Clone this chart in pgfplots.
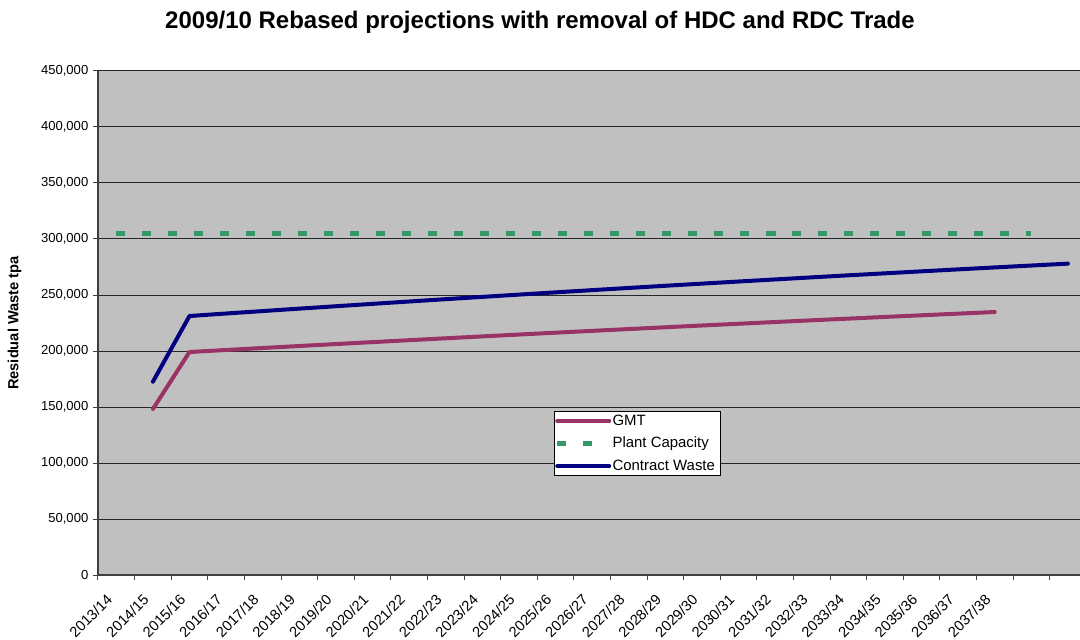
\documentclass[border=0pt]{standalone}
\usepackage{pgfplots}
\pgfplotsset{compat=1.18}
\usepackage{fontspec}
\setmainfont{Liberation Sans}
\definecolor{gmt}{HTML}{993366}
\definecolor{plant}{HTML}{339966}
\definecolor{contract}{HTML}{000080}
\definecolor{bg}{HTML}{C0C0C0}
\begin{document}
\begin{tikzpicture}
\begin{axis}[
 name=ax,
 scale only axis,
 width=736.5pt, height=378pt,
 xmin=-0.5, xmax=26.33,
 ymin=0, ymax=450000,
 axis background/.style={fill=bg},
 axis x line*=bottom, axis y line*=left,
 axis line style={black!75, line width=0.9pt, -},
 tick align=outside,
 major tick length=3.75pt,
 tick style={black!75, line width=0.75pt},
 tick label style={font=\fontsize{9.8}{11}\selectfont},
 xtick={-0.5,0.5,...,25.5},
 xticklabel={\mbox{}},
 extra x ticks={0,1,...,24},
 extra x tick labels={2013/14,2014/15,2015/16,2016/17,2017/18,2018/19,2019/20,2020/21,2021/22,2022/23,2023/24,2024/25,2025/26,2026/27,2027/28,2028/29,2029/30,2030/31,2031/32,2032/33,2033/34,2034/35,2035/36,2036/37,2037/38},
 extra x tick style={major tick length=0pt, tick label style={xshift=-8pt, yshift=-13.5pt, rotate=45, anchor=north east, inner sep=0pt, font=\fontsize{11}{13}\selectfont}},
 ytick={0,50000,100000,150000,200000,250000,300000,350000,400000,450000},
 yticklabels={0,{50,000},{100,000},{150,000},{200,000},{250,000},{300,000},{350,000},{400,000},{450,000}},
 scaled y ticks=false,
 ymajorgrids,
 major grid style={black!85, line width=0.75pt},
 ylabel={Residual Waste tpa},
 ylabel style={font=\bfseries\fontsize{11}{13}\selectfont, at={(axis description cs:-0.085,0.5)}, anchor=center},
 legend style={at={(0.4644,0.3254)}, anchor=north west, draw=black, fill=white,
   font=\fontsize{11.2}{13}\selectfont, inner sep=0.5pt, row sep=3.5pt,
   nodes={inner xsep=0.8pt}},
 legend cell align=left,
 legend image code/.code={\draw[#1] (0pt,0pt) -- (39pt,0pt);},
]
\addplot[gmt, line width=3pt, line cap=round, line join=round] coordinates {
(1,148200) (2,199100) (3,200900) (4,202700) (5,204450) (6,206200) (7,207930) (8,209650) (9,211350) (10,213030) (11,214700) (12,216350) (13,217980) (14,219590) (15,221190) (16,222770) (17,224330) (18,225880) (19,227410) (20,228920) (21,230420) (22,231900) (23,233360) (24,234810)
};
\addlegendentry{GMT}
\addplot[plant, line width=3.4pt, dash pattern=on 6.75pt off 12.75pt] coordinates {
(0,305000) (1,305000) (2,305000) (3,305000) (4,305000) (5,305000) (6,305000) (7,305000) (8,305000) (9,305000) (10,305000) (11,305000) (12,305000) (13,305000) (14,305000) (15,305000) (16,305000) (17,305000) (18,305000) (19,305000) (20,305000) (21,305000) (22,305000) (23,305000) (24,305000) (25,305000)
};
\addlegendentry{Plant Capacity}
\addplot[contract, line width=3pt, line cap=round, line join=round] coordinates {
(1,172600) (2,231250) (3,233470) (4,235660) (5,237830) (6,239970) (7,242090) (8,244190) (9,246270) (10,248320) (11,250350) (12,252360) (13,254340) (14,256300) (15,258230) (16,260150) (17,262040) (18,263900) (19,265750) (20,267570) (21,269360) (22,271130) (23,272880) (24,274610) (25,276310) (26,277990)
};
\addlegendentry{Contract Waste\rule{3pt}{0pt}}
\end{axis}
\node[font=\bfseries\fontsize{18}{21.6}\selectfont, anchor=base] at ([shift={(331.5pt,409.5pt)}]ax.south west) {2009/10 Rebased projections with removal of HDC and RDC Trade};
\pgfresetboundingbox
\path[use as bounding box] ([shift={(-73.5pt,-48pt)}]ax.south west) rectangle ([shift={(0pt,53.25pt)}]ax.north east);
\end{tikzpicture}
\end{document}
